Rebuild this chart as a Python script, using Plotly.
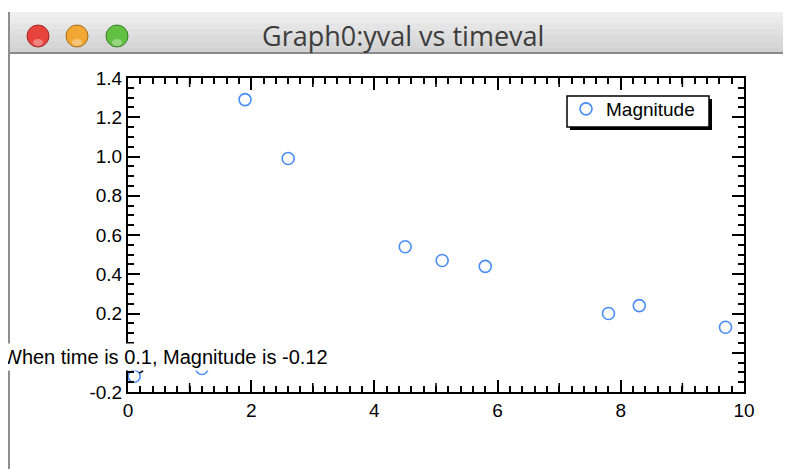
import plotly.graph_objects as go

W, H = 791, 469
# the page body adds an 8px offset, so screenshot pixel p sits at figure pixel p - 8
OFF = 8

# --------------------------------------------------------------------------
# DATA
# --------------------------------------------------------------------------
timeval = [0.1, 1.2, 1.9, 2.6, 4.5, 5.1, 5.8, 7.8, 8.3, 9.7]
yval = [-0.12, -0.08, 1.29, 0.99, 0.54, 0.47, 0.44, 0.20, 0.24, 0.13]

x_tickvals = [0, 2, 4, 6, 8, 10]
x_ticktext = ["0", "2", "4", "6", "8", "10"]
x_midticks = [1, 3, 5, 7, 9]
y_tickvals = [-0.2, 0.0, 0.2, 0.4, 0.6, 0.8, 1.0, 1.2, 1.4]
y_ticktext = ["-0.2", "0.0", "0.2", "0.4", "0.6", "0.8", "1.0", "1.2", "1.4"]

WINDOW_TITLE = "Graph0:yval vs timeval"
TRACE_NAME = "Magnitude"

C_MARKER = "#4a8df8"
FONT = "Liberation Sans, Arial, sans-serif"

PLOT_TOP, PLOT_BOT = 78, 392


# screenshot pixel -> paper helpers (origin top-left)
def px(x):
    return (x - OFF) / W


def py(y):
    return 1 - (y - OFF) / H


def rect(x0, y0, x1, y1, fill, line=None, lw=0, layer="below"):
    return dict(
        type="rect", xref="paper", yref="paper",
        x0=px(x0), x1=px(x1), y0=py(y1), y1=py(y0),
        fillcolor=fill, line=dict(color=line or fill, width=lw), layer=layer,
    )


def circle(cx, cy, r, fill, line):
    return dict(
        type="circle", xref="paper", yref="paper",
        x0=px(cx - r), x1=px(cx + r), y0=py(cy + r), y1=py(cy - r),
        fillcolor=fill, line=dict(color=line, width=1), layer="above",
    )


fig = go.Figure()

fig.add_trace(
    go.Scatter(
        x=timeval,
        y=yval,
        mode="markers",
        name=TRACE_NAME,
        marker=dict(symbol="circle-open", size=12, color=C_MARKER,
                    line=dict(width=1.6, color=C_MARKER)),
        showlegend=True,
    )
)

# --- window chrome (title bar, border, buttons) ---
shapes = []
bands = ["#efefef", "#eaeaea", "#e5e5e5", "#e0e0e0", "#dbdbdb", "#d6d6d6", "#d2d2d2"]
top, bot = 12, 53
step = (bot - top) / len(bands)
for i, c in enumerate(bands):
    shapes.append(rect(8, top + i * step, 820, top + (i + 1) * step + 0.5, c))
shapes.append(rect(8, 52, 820, 54, "#8a8a8a"))
shapes.append(rect(8, 12, 10, 480, "#8f8f8f"))
shapes.append(circle(38, 36, 11, "#e8433d", "#9c2a26"))
shapes.append(circle(77, 36, 11, "#f2a733", "#a56d1c"))
shapes.append(circle(117, 36, 11, "#62c142", "#3a7f28"))
# small highlights on the buttons
for cx in (38, 77, 117):
    shapes.append(dict(
        type="circle", xref="paper", yref="paper",
        x0=px(cx - 5), x1=px(cx + 5), y0=py(46), y1=py(39),
        fillcolor="rgba(255,255,255,0.35)", line=dict(width=0), layer="above",
    ))

# Igor draws a slightly longer tick at odd integers (bottom and top axis)
for xv in x_midticks:
    for y0, y1 in ((PLOT_BOT, PLOT_BOT - 9), (PLOT_TOP, PLOT_TOP + 9)):
        shapes.append(dict(
            type="line", xref="x", yref="paper", x0=xv, x1=xv,
            y0=py(y0), y1=py(y1), line=dict(color="black", width=1.5),
        ))

# legend box with Igor-style drop shadow
shapes.append(rect(570, 99, 712, 130, "black"))
shapes.append(rect(567, 96, 709, 127, "white", line="black", lw=1.5))

fig.add_annotation(
    x=px(403), y=py(36), xref="paper", yref="paper",
    xanchor="center", yanchor="middle",
    text=WINDOW_TITLE, showarrow=False,
    font=dict(family="Open Sans, sans-serif", size=27, color="#3c3c3c"),
)

# Igor-style tag on the first point
fig.add_annotation(
    x=timeval[0], y=yval[0],
    text=f"When time is {timeval[0]}, Magnitude is {yval[0]}",
    showarrow=True, arrowhead=0, arrowwidth=1.5, arrowcolor="black",
    ax=31, ay=-19, standoff=6,
    bgcolor="white", borderpad=2,
    font=dict(family=FONT, size=20, color="black"),
)

axis_common = dict(
    showline=True, linecolor="black", linewidth=2, mirror="ticks",
    ticks="inside", tickcolor="black", tickwidth=2, ticklen=12,
    showgrid=False, zeroline=False, tickmode="array",
    tickfont=dict(family=FONT, size=19, color="black"),
)

fig.update_layout(
    width=W, height=H,
    margin=dict(l=0, r=0, t=0, b=0, autoexpand=False),
    paper_bgcolor="white", plot_bgcolor="rgba(0,0,0,0)",
    shapes=shapes,
    xaxis=dict(
        **axis_common, domain=[px(128), px(744)], range=[0, 10],
        tickvals=x_tickvals, ticktext=x_ticktext,
        minor=dict(dtick=0.2, ticks="inside", ticklen=6, tickwidth=1.5, tickcolor="black"),
    ),
    yaxis=dict(
        **axis_common, domain=[py(PLOT_BOT), py(PLOT_TOP)], range=[-0.2, 1.4],
        tickvals=y_tickvals, ticktext=y_ticktext,
        minor=dict(dtick=0.05, ticks="inside", ticklen=6, tickwidth=1.5, tickcolor="black"),
    ),
    legend=dict(
        x=px(566), y=py(90), xanchor="left", yanchor="top",
        bgcolor="rgba(0,0,0,0)", borderwidth=0,
        font=dict(family=FONT, size=19, color="black"),
        itemwidth=30,
    ),
)

fig.write_html("out.html")
